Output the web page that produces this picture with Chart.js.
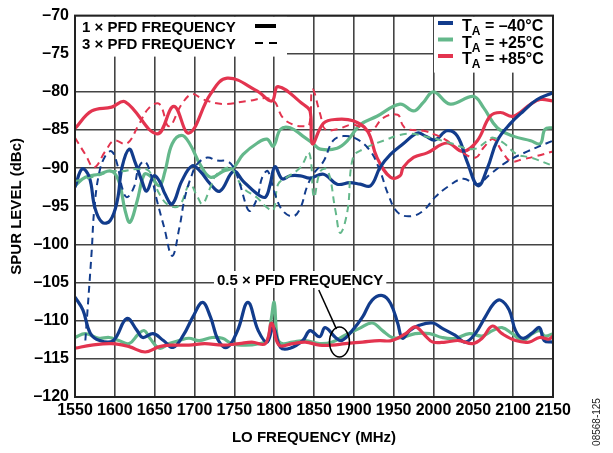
<!DOCTYPE html>
<html>
<head>
<meta charset="utf-8">
<script src="https://cdn.jsdelivr.net/npm/chart.js@4/dist/chart.umd.min.js"></script>
<style>
  html, body { margin: 0; padding: 0; background: #fff; }
</style>
</head>
<body>
<canvas id="chartjs_spur" width="613" height="453"></canvas>
<script>
// axis ticks
const freqTicks = [1550, 1600, 1650, 1700, 1750, 1800, 1850, 1900, 1950, 2000, 2050, 2100, 2150];
const levelTicks = [-120, -115, -110, -105, -100, -95, -90, -85, -80, -75, -70];

// 1 x PFD, -40C
const blue1Freq = [1550, 1559, 1568, 1575, 1584, 1594, 1603, 1609, 1618, 1625, 1634, 1640, 1649, 1656, 1663, 1672, 1684, 1697, 1707, 1720, 1732, 1749, 1761, 1779, 1789, 1795, 1801, 1810, 1820, 1833, 1845, 1862, 1879, 1895, 1908, 1921, 1933, 1946, 1962, 1980, 1990, 2002, 2017, 2030, 2042, 2056, 2068, 2080, 2097, 2113, 2130, 2150];
const blue1Val = [-92.5, -90.1, -91.2, -95.2, -97.1, -96.9, -94.3, -89.9, -87.5, -89.1, -91.7, -93.0, -91.0, -91.7, -93.4, -94.7, -91.7, -89.7, -90.4, -92.1, -93.0, -90.4, -91.7, -93.4, -93.8, -92.1, -89.8, -91.4, -91.0, -91.0, -91.3, -90.8, -92.1, -91.9, -92.1, -92.3, -89.9, -88.2, -86.8, -85.4, -85.8, -86.3, -85.1, -85.8, -89.1, -92.3, -89.9, -86.4, -84.1, -82.5, -81.0, -80.1];

// 1 x PFD, +25C
const green1Freq = [1550, 1563, 1580, 1596, 1605, 1613, 1619, 1628, 1637, 1644, 1656, 1663, 1672, 1684, 1694, 1707, 1720, 1736, 1749, 1761, 1779, 1791, 1799, 1808, 1820, 1836, 1849, 1858, 1879, 1892, 1908, 1929, 1958, 1975, 1987, 2000, 2021, 2050, 2063, 2080, 2100, 2122, 2134, 2140, 2150];
const green1Val = [-92.3, -91.2, -90.8, -90.4, -91.7, -95.6, -97.1, -94.3, -90.8, -91.0, -92.3, -90.4, -86.8, -85.7, -86.8, -89.5, -91.2, -90.4, -89.9, -88.2, -86.7, -86.2, -87.1, -84.9, -84.7, -85.8, -86.8, -87.5, -87.4, -86.4, -84.3, -83.2, -81.6, -82.5, -81.4, -80.0, -81.6, -80.6, -82.1, -84.7, -85.8, -86.4, -86.8, -84.9, -84.7];

// 1 x PFD, +85C
const red1Freq = [1550, 1571, 1596, 1613, 1653, 1674, 1693, 1720, 1741, 1779, 1797, 1805, 1836, 1845, 1848, 1862, 1879, 1899, 1917, 1929, 1946, 1958, 1962, 1975, 1992, 2017, 2037, 2055, 2071, 2084, 2100, 2122, 2134, 2150];
const red1Val = [-84.8, -82.5, -82.0, -81.3, -85.5, -81.9, -85.4, -80.3, -78.2, -79.9, -81.2, -79.3, -81.6, -82.5, -86.8, -84.1, -83.6, -83.8, -85.1, -88.6, -91.2, -91.0, -89.9, -88.6, -88.0, -86.7, -87.8, -86.4, -83.2, -82.7, -83.2, -81.6, -81.0, -81.2];

// 3 x PFD, -40C
const blue3Freq = [1563, 1571, 1574, 1580, 1588, 1596, 1603, 1609, 1615, 1624, 1630, 1637, 1644, 1653, 1662, 1672, 1681, 1688, 1697, 1703, 1716, 1728, 1741, 1749, 1757, 1766, 1770, 1779, 1785, 1792, 1801, 1811, 1824, 1833, 1841, 1849, 1862, 1874, 1887, 1904, 1921, 1933, 1943, 1955, 1971, 1987, 2002, 2017, 2037, 2055, 2071, 2093, 2118, 2150];
const blue3Val = [-112.6, -100.8, -95.6, -90.8, -88.4, -87.8, -89.5, -92.5, -93.8, -92.5, -89.9, -89.1, -90.4, -94.3, -97.8, -101.5, -97.8, -93.8, -90.8, -89.5, -88.6, -89.0, -89.1, -89.9, -92.1, -95.2, -95.6, -93.8, -91.2, -90.4, -93.4, -95.6, -96.3, -95.2, -92.5, -90.8, -89.1, -86.4, -85.8, -86.2, -87.8, -90.4, -93.4, -95.8, -96.3, -95.6, -93.8, -92.5, -91.4, -92.1, -90.8, -89.1, -87.8, -86.4];

// 3 x PFD, +25C
const green3Freq = [1550, 1563, 1578, 1596, 1609, 1630, 1643, 1656, 1668, 1681, 1694, 1703, 1710, 1720, 1728, 1745, 1761, 1779, 1789, 1799, 1805, 1816, 1833, 1844, 1850, 1858, 1867, 1877, 1883, 1892, 1899, 1912, 1937, 1967, 1996, 2021, 2050, 2068, 2075, 2088, 2105, 2122, 2150];
const green3Val = [-91.7, -91.4, -91.0, -90.4, -90.4, -90.1, -90.4, -93.4, -94.9, -94.9, -92.1, -93.6, -94.7, -92.5, -90.8, -90.0, -92.6, -93.9, -95.0, -95.5, -92.1, -91.2, -89.9, -88.0, -93.8, -90.4, -90.2, -95.6, -98.5, -95.6, -88.6, -87.5, -86.4, -85.5, -86.0, -86.7, -87.5, -86.4, -86.0, -86.7, -88.2, -88.6, -89.7];

// 3 x PFD, +85C
const red3Freq = [1550, 1563, 1574, 1588, 1599, 1615, 1630, 1643, 1656, 1668, 1684, 1697, 1711, 1736, 1766, 1797, 1811, 1824, 1836, 1844, 1848, 1858, 1864, 1879, 1899, 1921, 1937, 1955, 1961, 1967, 1987, 2002, 2017, 2037, 2053, 2063, 2075, 2086, 2097, 2113, 2130, 2150];
const red3Val = [-86.0, -88.2, -89.9, -87.8, -86.4, -86.8, -84.3, -82.1, -81.6, -84.5, -81.6, -80.3, -81.0, -81.6, -81.2, -81.0, -83.4, -84.3, -84.5, -84.3, -79.7, -83.0, -84.9, -84.9, -84.3, -85.1, -83.4, -83.0, -84.3, -84.9, -85.1, -85.6, -86.4, -88.0, -88.6, -87.3, -86.2, -87.8, -89.1, -88.8, -88.4, -87.8];

// 0.5 x PFD, -40C
const blueHalfFreq = [1550, 1560, 1569, 1581, 1598, 1615, 1628, 1635, 1648, 1661, 1673, 1686, 1698, 1710, 1720, 1730, 1741, 1754, 1767, 1780, 1791, 1799, 1808, 1820, 1836, 1845, 1857, 1864, 1877, 1885, 1898, 1911, 1923, 1936, 1946, 1955, 1961, 1970, 1982, 1999, 2011, 2027, 2040, 2053, 2065, 2076, 2084, 2095, 2103, 2112, 2124, 2133, 2139, 2150];
const blueHalfVal = [-106.9, -108.6, -111.6, -112.6, -112.6, -109.7, -111.3, -112.2, -111.7, -112.6, -113.5, -111.9, -109.5, -107.6, -109.5, -112.6, -113.5, -111.3, -107.6, -111.3, -112.8, -110.9, -113.5, -113.6, -112.6, -111.3, -112.1, -110.9, -112.2, -112.6, -111.3, -109.5, -107.3, -106.7, -107.7, -110.3, -112.3, -111.3, -110.6, -110.3, -111.0, -111.9, -112.8, -111.6, -109.5, -107.7, -107.3, -108.6, -111.3, -112.3, -111.6, -110.9, -112.6, -112.8];

// 0.5 x PFD, +25C
const greenHalfFreq = [1550, 1563, 1580, 1593, 1605, 1618, 1630, 1637, 1644, 1656, 1668, 1681, 1693, 1706, 1722, 1735, 1747, 1764, 1781, 1791, 1796, 1800, 1804, 1810, 1823, 1839, 1857, 1873, 1889, 1907, 1923, 1936, 1948, 1961, 1977, 1995, 2011, 2027, 2045, 2061, 2074, 2086, 2099, 2112, 2124, 2133, 2140, 2150];
const greenHalfVal = [-112.2, -111.7, -112.3, -112.2, -112.6, -113.0, -111.7, -111.3, -112.3, -113.6, -113.0, -112.6, -112.3, -112.6, -112.2, -112.3, -113.0, -113.2, -113.0, -112.6, -110.0, -107.6, -112.2, -113.0, -112.8, -112.6, -113.0, -112.8, -111.9, -111.0, -110.3, -111.3, -112.2, -112.2, -111.7, -111.7, -112.2, -112.3, -111.7, -112.0, -111.3, -110.9, -111.7, -112.6, -111.7, -111.3, -112.0, -111.7];

// 0.5 x PFD, +85C
const redHalfFreq = [1550, 1571, 1596, 1618, 1638, 1656, 1672, 1693, 1713, 1735, 1756, 1772, 1789, 1797, 1806, 1823, 1839, 1857, 1873, 1889, 1911, 1932, 1948, 1965, 1977, 1990, 1999, 2015, 2032, 2049, 2061, 2074, 2086, 2103, 2120, 2133, 2145, 2150];
const redHalfVal = [-113.6, -113.2, -113.0, -113.4, -114.1, -113.4, -113.2, -113.2, -113.0, -113.2, -113.0, -112.8, -113.0, -110.3, -113.2, -113.0, -112.8, -113.2, -113.2, -113.0, -112.8, -112.6, -112.6, -111.7, -110.8, -112.0, -112.8, -112.8, -112.6, -113.0, -112.3, -110.7, -111.7, -112.6, -112.8, -112.2, -112.4, -112.0];

const BLUE = "#123c8c";
const GREEN = "#64b88b";
const RED = "#e3344f";

function pts(freq, vals) {
  return freq.map(function (f, i) { return { x: f, y: vals[i] }; });
}

function series(freq, vals, color, dashed) {
  return {
    data: pts(freq, vals),
    borderColor: color,
    borderWidth: dashed ? 2 : 3.2,
    borderDash: dashed ? [7, 5] : [],
    pointRadius: 0,
    fill: false,
    tension: 0.4,
  };
}

function minusLabel(v) {
  return v < 0 ? "\u2013" + Math.abs(v) : String(v);
}

const decor = {
  id: "decor",
  beforeDatasetsDraw(chart) {
    const ctx = chart.ctx;
    const a = chart.chartArea;
    ctx.save();
    ctx.fillStyle = "#fff";
    // legend boxes hide the grid behind them
    ctx.fillRect(a.left + 1, a.top + 1, 211, 40);
    ctx.fillRect(434, a.top + 1, a.right - 435, 56);
    ctx.restore();
  },
  afterDatasetsDraw(chart) {
    const ctx = chart.ctx;
    const a = chart.chartArea;
    const xs = chart.scales.x;
    const ys = chart.scales.y;
    ctx.save();

    // frame
    ctx.strokeStyle = "#222";
    ctx.lineWidth = 2;
    ctx.strokeRect(a.left, a.top, a.right - a.left, a.bottom - a.top);

    // left legend
    ctx.fillStyle = "#000";
    ctx.font = "bold 15px 'Liberation Sans', Arial, sans-serif";
    ctx.textBaseline = "alphabetic";
    ctx.textAlign = "left";
    ctx.fillText("1 \u00d7 PFD FREQUENCY", 82, 32);
    ctx.fillText("3 \u00d7 PFD FREQUENCY", 82, 49);
    ctx.strokeStyle = "#000";
    ctx.lineWidth = 4;
    ctx.beginPath();
    ctx.moveTo(255, 26);
    ctx.lineTo(276, 26);
    ctx.stroke();
    ctx.lineWidth = 2;
    ctx.setLineDash([8, 6]);
    ctx.beginPath();
    ctx.moveTo(255, 43);
    ctx.lineTo(278, 43);
    ctx.stroke();
    ctx.setLineDash([]);

    // right legend
    const temps = [["\u201340\u00b0C", BLUE], ["+25\u00b0C", GREEN], ["+85\u00b0C", RED]];
    temps.forEach(function (t, i) {
      const base = 31 + i * 16.5;
      ctx.strokeStyle = t[1];
      ctx.lineWidth = 4;
      ctx.beginPath();
      ctx.moveTo(438, base - 8);
      ctx.lineTo(453, base - 8);
      ctx.stroke();
      ctx.fillStyle = "#000";
      ctx.font = "bold 16px 'Liberation Sans', Arial, sans-serif";
      ctx.fillText("T", 462, base);
      const wT = ctx.measureText("T").width;
      ctx.font = "bold 12px 'Liberation Sans', Arial, sans-serif";
      ctx.fillText("A", 462 + wT, base + 4);
      const wA = ctx.measureText("A").width;
      ctx.font = "bold 16px 'Liberation Sans', Arial, sans-serif";
      ctx.fillText(" = " + t[0], 462 + wT + wA, base);
    });

    // 0.5 x PFD annotation
    ctx.font = "bold 15px 'Liberation Sans', Arial, sans-serif";
    const label = "0.5 \u00d7 PFD FREQUENCY";
    const lw = ctx.measureText(label).width;
    ctx.fillStyle = "#fff";
    ctx.fillRect(214, 271, lw + 6, 17);
    ctx.fillStyle = "#000";
    ctx.fillText(label, 217, 285);
    const ex = xs.getPixelForValue(1882);
    const ey = ys.getPixelForValue(-112.8);
    ctx.strokeStyle = "#000";
    ctx.lineWidth = 1.5;
    ctx.beginPath();
    ctx.moveTo(xs.getPixelForValue(1856), 290);
    ctx.lineTo(ex - 3, ey - 13);
    ctx.stroke();
    ctx.beginPath();
    ctx.ellipse(ex, ey, 10, 15, 0, 0, Math.PI * 2);
    ctx.stroke();

    // axis titles
    ctx.font = "bold 15px 'Liberation Sans', Arial, sans-serif";
    ctx.textAlign = "center";
    ctx.textBaseline = "middle";
    ctx.fillText("LO FREQUENCY (MHz)", (a.left + a.right) / 2, 438);
    ctx.save();
    ctx.translate(17, (a.top + a.bottom) / 2);
    ctx.rotate(-Math.PI / 2);
    ctx.fillText("SPUR LEVEL (dBc)", 0, 0);
    ctx.restore();

    // figure code
    ctx.save();
    ctx.font = "10px 'Liberation Sans', Arial, sans-serif";
    ctx.fillStyle = "#222";
    ctx.translate(597, 422);
    ctx.rotate(-Math.PI / 2);
    ctx.fillText("08568-125", 0, 0);
    ctx.restore();

    ctx.restore();
  },
};

new Chart(document.getElementById("chartjs_spur"), {
  type: "line",
  data: {
    datasets: [
      series(blue3Freq, blue3Val, BLUE, true),
      series(green3Freq, green3Val, GREEN, true),
      series(red3Freq, red3Val, RED, true),
      series(redHalfFreq, redHalfVal, RED, false),
      series(blueHalfFreq, blueHalfVal, BLUE, false),
      series(greenHalfFreq, greenHalfVal, GREEN, false),
      series(blue1Freq, blue1Val, BLUE, false),
      series(red1Freq, red1Val, RED, false),
      series(green1Freq, green1Val, GREEN, false),
    ],
  },
  options: {
    responsive: false,
    animation: false,
    devicePixelRatio: 1,
    layout: { padding: { top: 14, right: 60, left: 0, bottom: 0 } },
    plugins: {
      legend: { display: false },
      tooltip: { enabled: false },
    },
    scales: {
      x: {
        type: "linear",
        min: freqTicks[0],
        max: freqTicks[freqTicks.length - 1],
        afterBuildTicks: function (s) { s.ticks = freqTicks.map(function (v) { return { value: v }; }); },
        afterFit: function (s) { s.height = 56; },
        ticks: {
          autoSkip: false,
          maxRotation: 0,
          padding: 4,
          color: "#000",
          font: { family: "'Liberation Sans', Arial, sans-serif", size: 16, weight: "bold" },
          callback: function (v) { return String(v); },
        },
        grid: { color: "#444", lineWidth: 1.6, drawTicks: false },
        border: { color: "#222", width: 2 },
      },
      y: {
        min: levelTicks[0],
        max: levelTicks[levelTicks.length - 1],
        afterBuildTicks: function (s) { s.ticks = levelTicks.map(function (v) { return { value: v }; }); },
        afterFit: function (s) { s.width = 75; },
        ticks: {
          padding: 6,
          color: "#000",
          font: { family: "'Liberation Sans', Arial, sans-serif", size: 16, weight: "bold" },
          callback: minusLabel,
        },
        grid: { color: "#444", lineWidth: 1.6, drawTicks: false },
        border: { color: "#222", width: 2 },
      },
    },
  },
  plugins: [decor],
});
</script>
</body>
</html>
